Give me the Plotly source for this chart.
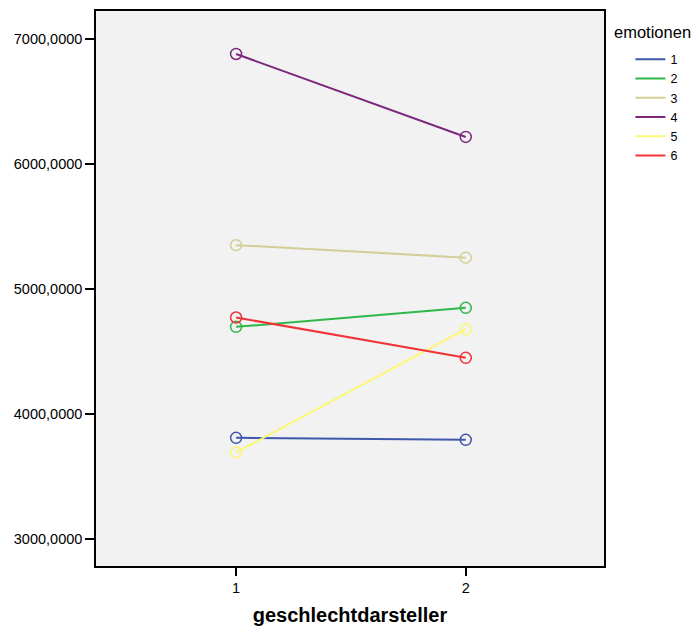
import plotly.graph_objects as go

categories = [1, 2]
emotion_names = ["1", "2", "3", "4", "5", "6"]
emotion_1 = [3808, 3792]
emotion_2 = [4696, 4848]
emotion_3 = [5350, 5250]
emotion_4 = [6880, 6216]
emotion_5 = [3691, 4677]
emotion_6 = [4771, 4448]
colors = ["#3E58AC", "#2EB848", "#D3CE97", "#7C287D", "#FBF873", "#EF3338"]
y_tickvals = [3000, 4000, 5000, 6000, 7000]
y_ticktext = ["3000,0000", "4000,0000", "5000,0000", "6000,0000", "7000,0000"]
x_tickvals = [1, 2]
x_ticktext = ["1", "2"]

series = [emotion_1, emotion_2, emotion_3, emotion_4, emotion_5, emotion_6]

fig = go.Figure()
for name, vals, col in zip(emotion_names, series, colors):
    fig.add_trace(go.Scatter(
        x=categories, y=vals, name=name, mode="lines",
        line=dict(color=col, width=2), legendgroup=name,
    ))
    fig.add_trace(go.Scatter(
        x=categories, y=vals, name=name, mode="markers", showlegend=False,
        legendgroup=name,
        marker=dict(symbol="circle-open", size=11, color=col, line=dict(width=1.5, color=col)),
    ))

font = "Liberation Sans"
# page body has an 8px margin, so the figure is offset by (8, 8)
fig.update_layout(
    width=691, height=622,
    margin=dict(l=88, r=95, t=3, b=64, autoexpand=False),
    paper_bgcolor="white",
    plot_bgcolor="#F2F2F2",
    font=dict(family=font, size=14, color="black"),
    showlegend=True,
    legend=dict(
        x=1.052, xanchor="left", y=0.9396, yanchor="top",
        font=dict(family=font, size=12.5, color="black"), itemwidth=30, tracegroupgap=0,
        bgcolor="rgba(0,0,0,0)",
    ),
    annotations=[dict(
        text="emotionen", xref="paper", yref="paper", x=1.016, y=0.963,
        xanchor="left", yanchor="middle", showarrow=False,
        font=dict(family=font, size=16.5, color="black"),
    )],
    xaxis=dict(
        range=[0.39, 2.602], tickvals=x_tickvals, ticktext=x_ticktext,
        tickfont=dict(family=font, size=14.5, color="black"),
        showgrid=False, zeroline=False, showline=True, mirror=True,
        linecolor="black", linewidth=1.5, ticks="outside", ticklen=8,
        tickwidth=1.5, tickcolor="black",
        title=dict(text="<b>geschlechtdarsteller</b>", font=dict(family=font, size=20, color="black"), standoff=13),
    ),
    yaxis=dict(
        range=[2782, 7224], tickvals=y_tickvals, ticktext=y_ticktext,
        tickfont=dict(family=font, size=14.5, color="black"),
        showgrid=False, zeroline=False, showline=True, mirror=True,
        linecolor="black", linewidth=1.5, ticks="outside", ticklen=9,
        tickwidth=1.5, tickcolor="black",
    ),
)

fig.write_html("out.html")
